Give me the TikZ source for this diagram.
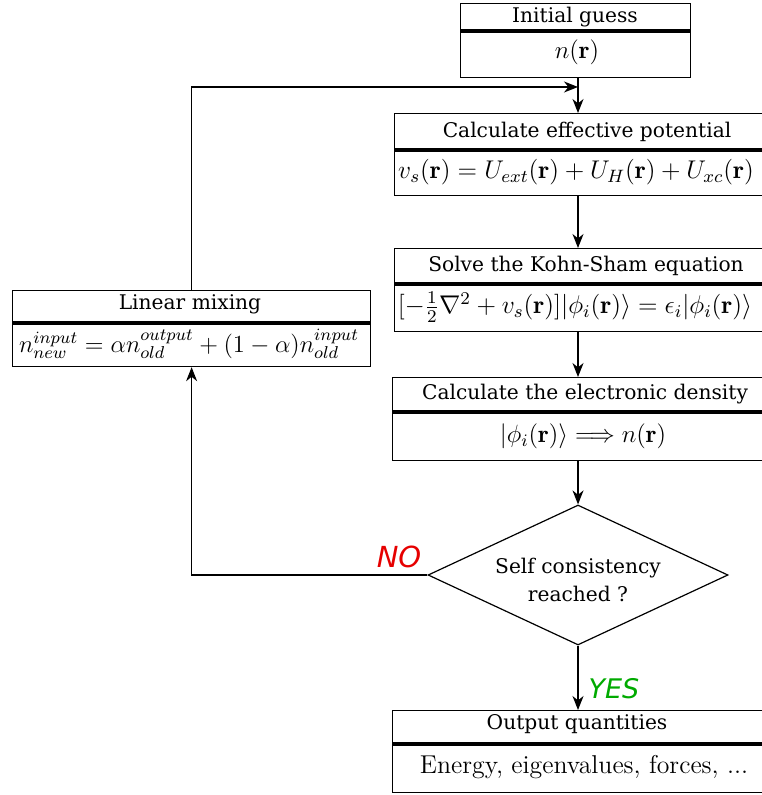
\RequirePackage{fix-cm}
\documentclass[tikz,border=0pt]{standalone}
\usepackage{fontspec}
\newfontfamily\dvs{DejaVu Serif}
\newfontfamily\dvsans{DejaVu Sans}
\usetikzlibrary{arrows.meta,shapes.geometric}
\definecolor{nored}{HTML}{E60000}
\definecolor{yesgreen}{HTML}{00AA00}
\begin{document}
\begin{tikzpicture}[x=0.5pt,y=-0.5pt,
  box/.style={draw, line width=0.6pt, inner sep=0pt, anchor=north west},
  divider/.style={line width=1.6pt},
  ttl/.style={font=\dvs\fontsize{10.1}{12}\selectfont, inner sep=0pt},
  mth/.style={font=\fontsize{12.5}{15}\selectfont, inner sep=0pt},
  mthl/.style={font=\fontsize{12.8}{15}\selectfont, inner sep=0pt},
  mths/.style={font=\fontsize{12.3}{15}\selectfont, inner sep=0pt},
  arr/.style={-{Stealth[length=7pt,width=5.5pt,inset=2.2pt]}, line width=0.6pt},
  lbl/.style={font=\dvsans\itshape\fontsize{14.5}{16}\selectfont, inner sep=0pt}]
\useasboundingbox (0,0) rectangle (761,795);
\coordinate (ax) at (578,0);
% boxes
\node[box, minimum width=115pt, minimum height=37pt] (ig) at (460,3) {};
\draw[divider] (ig.west |- 0,31) -- (ig.east |- 0,31);
\node[ttl] (igt) at (575,17) {Initial guess};
\node[mth] (igc) at (577,52) {$n(\mathbf{r})$};

\node[box, minimum width=195pt, minimum height=41pt] (ep) at (394,113) {};
\draw[divider] (ep.west |- 0,150) -- (ep.east |- 0,150);
\node[ttl] (ept) at (587,132) {Calculate effective potential};
\node[mthl] (epc) at (576,172) {$v_s(\mathbf{r}) = U_{ext}(\mathbf{r}) + U_H(\mathbf{r}) + U_{xc}(\mathbf{r})$};

\node[box, minimum width=195pt, minimum height=41.5pt] (ks) at (394,248) {};
\draw[divider] (ks.west |- 0,284) -- (ks.east |- 0,284);
\node[ttl] (kst) at (586,266) {Solve the Kohn-Sham equation};
\node[mthl] (ksc) at (575,307) {$[-\frac{1}{2}\nabla^2 + v_s(\mathbf{r})]|\phi_i(\mathbf{r})\rangle = \epsilon_i|\phi_i(\mathbf{r})\rangle$};

\node[box, minimum width=196pt, minimum height=41.5pt] (ed) at (392,377) {};
\draw[divider] (ed.west |- 0,412) -- (ed.east |- 0,412);
\node[ttl] (edt) at (585,394) {Calculate the electronic density};
\node[mth] (edc) at (583,436) {$|\phi_i(\mathbf{r})\rangle \Longrightarrow n(\mathbf{r})$};

\node[draw, diamond, line width=0.6pt, minimum width=150pt, minimum height=70pt, inner sep=0pt, aspect=2.1] (dia) at (578,575) {};
\node[ttl, align=center] (diat) at (578,580) {Self consistency\\[2pt] reached ?};

\node[box, minimum width=196pt, minimum height=41pt] (out) at (392,710) {};
\draw[divider] (out.west |- 0,744) -- (out.east |- 0,744);
\node[ttl] (outt) at (577,724) {Output quantities};
\node[font=\fontsize{12.9}{15}\selectfont, inner sep=0pt] (outc) at (584,767) {Energy, eigenvalues, forces, ...};

\node[box, minimum width=179pt, minimum height=38pt] (lm) at (12,290) {};
\draw[divider] (lm.west |- 0,323) -- (lm.east |- 0,323);
\node[ttl] (lmt) at (190,304) {Linear mixing};
\node[mths] (lmc) at (189,344) {$n_{new}^{input} = \alpha n_{old}^{output} + (1-\alpha) n_{old}^{input}$};

% connectors
\coordinate (loopend) at (578,87);
\draw[arr] (ig.south -| ax) -- (ep.north -| ax);
\draw[arr] (ep.south -| ax) -- (ks.north -| ax);
\draw[arr] (ks.south -| ax) -- (ed.north -| ax);
\draw[arr] (ed.south -| ax) -- (dia.north);
\draw[arr] (dia.south) -- (out.north -| ax);
\draw[arr] (dia.west) -| (lm.south);
\draw[arr] (lm.north) |- (loopend);

\node[lbl, text=nored] (no) at (399,557) {NO};
\node[lbl, text=yesgreen, font=\dvsans\itshape\fontsize{13.5}{16}\selectfont] (yes) at (614,689) {YES};
\end{tikzpicture}
\end{document}
